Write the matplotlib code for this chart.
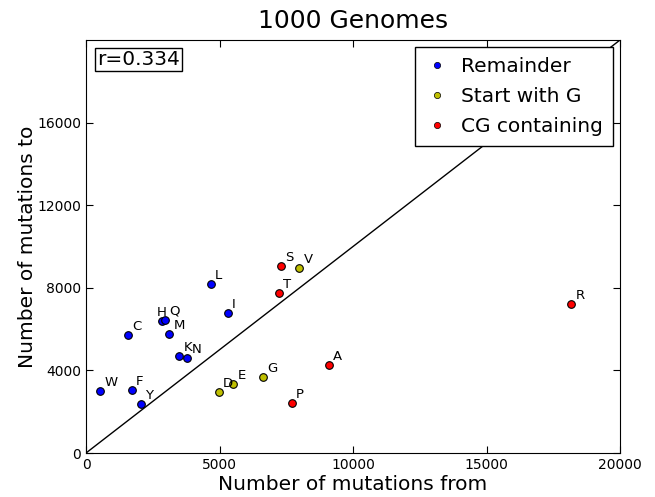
import matplotlib
matplotlib.use("Agg")
import matplotlib.pyplot as plt
from matplotlib.lines import Line2D

# amino acid residues: mutations from / mutations to
remainder_aa = ["W", "F", "Y", "C", "H", "Q", "M", "K", "N", "L", "I"]
remainder_from = [530, 1710, 2050, 1570, 2840, 2960, 3120, 3490, 3790, 4670, 5320]
remainder_to = [3000, 3060, 2370, 5710, 6370, 6440, 5760, 4680, 4600, 8180, 6800]

startg_aa = ["D", "E", "G", "V"]
startg_from = [4980, 5520, 6630, 7990]
startg_to = [2960, 3350, 3690, 8970]

cg_aa = ["S", "T", "A", "P", "R"]
cg_from = [7310, 7230, 9090, 7700, 18180]
cg_to = [9050, 7750, 4240, 2410, 7210]

r_value = 0.334

fig = plt.figure(figsize=(6.55, 4.97), dpi=100)
ax = fig.add_axes([0.1313, 0.0885, 0.8153, 0.831])

groups = [
    (remainder_aa, remainder_from, remainder_to, "b", "Remainder"),
    (startg_aa, startg_from, startg_to, "y", "Start with G"),
    (cg_aa, cg_from, cg_to, "r", "CG containing"),
]

# H sits right under Q, push its label to the left
label_shift = {"H": (-4, 1.5)}

handles = []
for names, xs, ys, col, lab in groups:
    ax.plot(xs, ys, "o", color=col, markeredgecolor="k", markeredgewidth=0.8,
            markersize=5.5, linestyle="none", zorder=3)
    for n, x, y in zip(names, xs, ys):
        ax.annotate(n, (x, y), xytext=label_shift.get(n, (3, 1.5)),
                    textcoords="offset points", fontsize=9.5,
                    ha="left", va="bottom")
    handles.append(Line2D([], [], marker="o", color=col, markeredgecolor="k",
                          markeredgewidth=0.5, markersize=4.5, linestyle="none",
                          label=lab))

ax.plot([0, 20000], [0, 20000], "k-", linewidth=1)

ax.set_xlim(0, 20000)
ax.set_ylim(0, 20000)
ax.set_xticks([0, 5000, 10000, 15000, 20000])
ax.set_yticks([0, 4000, 8000, 12000, 16000])
ax.tick_params(direction="in", top=True, right=True, labelsize=10, length=5)

ax.set_title("1000 Genomes", fontsize=18, pad=9)
ax.set_xlabel("Number of mutations from", fontsize=14.5, labelpad=2)
ax.set_ylabel("Number of mutations to", fontsize=14.5, labelpad=0)

ax.text(0.02, 0.975, "r=%.3f" % r_value, transform=ax.transAxes, fontsize=14.5,
        ha="left", va="top",
        bbox=dict(boxstyle="square,pad=0.1", facecolor="white", edgecolor="k"))

leg = ax.legend(handles=handles, loc="upper right", fontsize=14.5, numpoints=1,
                fancybox=False, framealpha=1, borderaxespad=0.35,
                handlelength=1.2, handletextpad=0.6, borderpad=0.5,
                labelspacing=0.55)
leg.get_frame().set_edgecolor("k")

fig.savefig("out.png", dpi=100)
